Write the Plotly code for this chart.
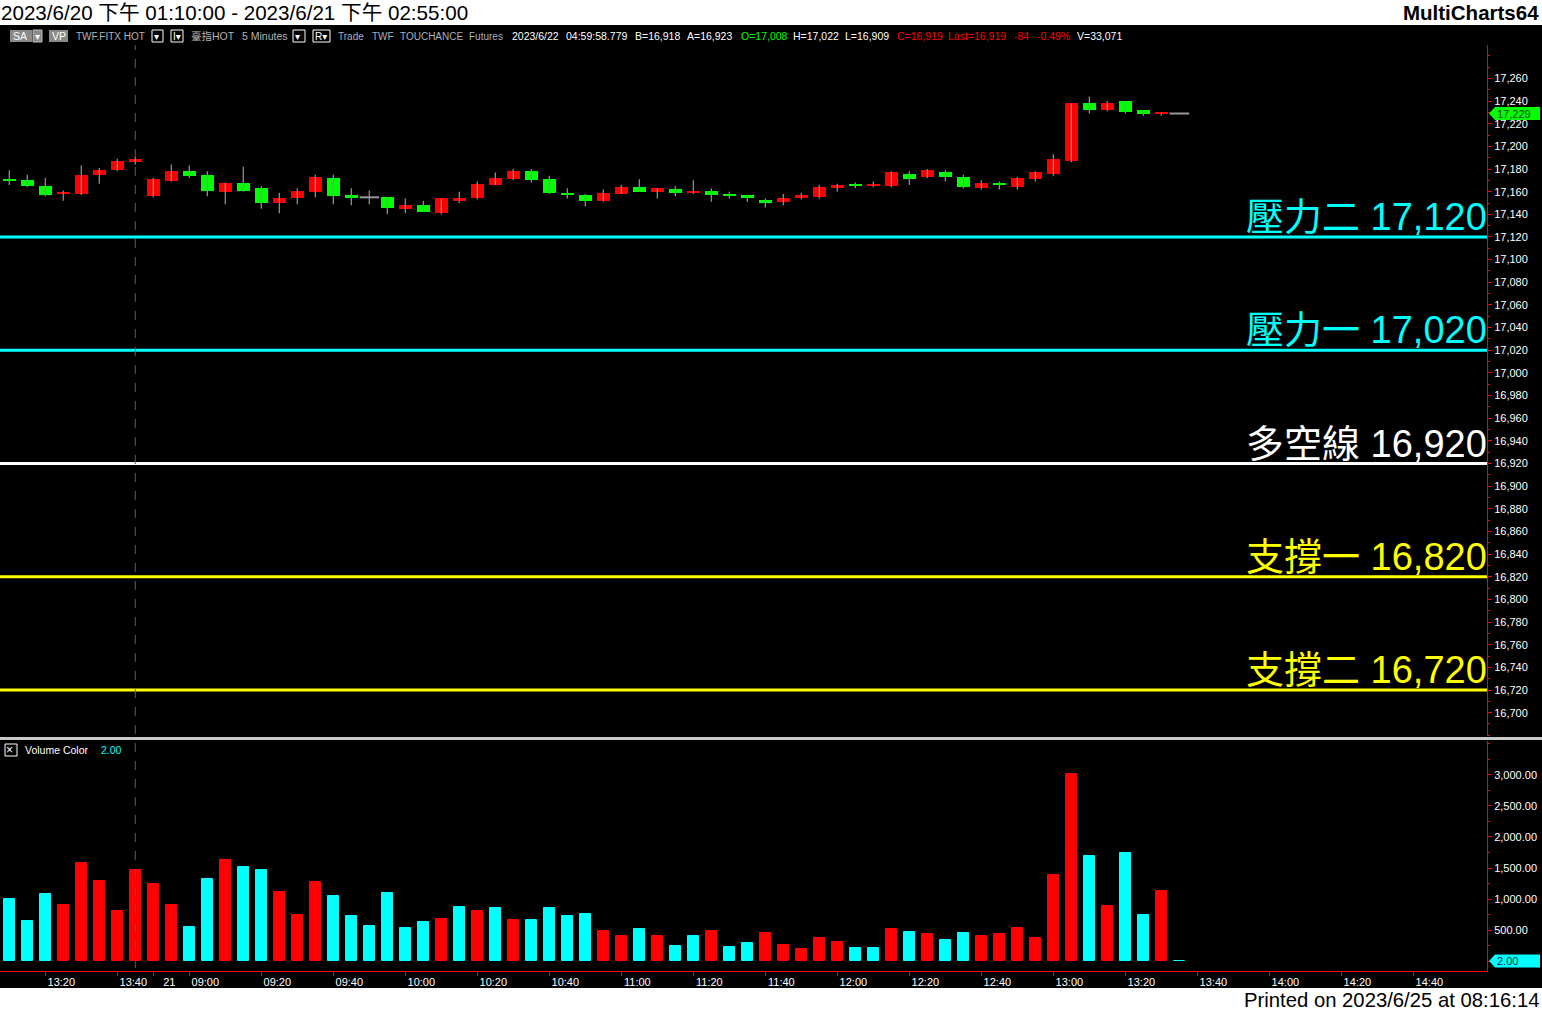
import plotly.graph_objects as go
import pandas as pd

# ---------------- data ----------------
opens = [17171, 17170, 17165, 17158, 17158, 17175, 17179, 17186, 17156, 17169,
         17178, 17175, 17160, 17168, 17163, 17150, 17154, 17160, 17172, 17157,
         17155, 17155, 17145, 17148, 17141, 17152, 17154, 17166, 17171, 17178,
         17171, 17159, 17157, 17152, 17158, 17164, 17160, 17162, 17159, 17161,
         17158, 17157, 17153, 17151, 17154, 17155, 17163, 17167, 17165, 17165,
         17176, 17173, 17177, 17173, 17163, 17168, 17164, 17171, 17176, 17187,
         17238, 17232, 17240, 17232, 17229, 17229]
highs = [17179, 17175, 17172, 17161, 17183, 17181, 17189, 17191, 17172, 17184,
         17183, 17178, 17168, 17182, 17165, 17159, 17163, 17175, 17175, 17163,
         17161, 17155, 17154, 17152, 17154, 17160, 17169, 17177, 17180, 17180,
         17174, 17163, 17158, 17162, 17166, 17171, 17163, 17165, 17170, 17163,
         17160, 17157, 17154, 17158, 17159, 17166, 17167, 17168, 17169, 17178,
         17178, 17180, 17179, 17175, 17170, 17169, 17173, 17178, 17193, 17238,
         17244, 17240, 17240, 17232, 17230, 17229]
lows = [17166, 17164, 17156, 17152, 17157, 17167, 17178, 17184, 17155, 17169,
        17172, 17156, 17149, 17160, 17145, 17141, 17149, 17155, 17149, 17148,
        17149, 17140, 17141, 17142, 17140, 17150, 17153, 17166, 17170, 17168,
        17158, 17154, 17147, 17151, 17158, 17160, 17154, 17156, 17158, 17151,
        17154, 17151, 17146, 17148, 17153, 17154, 17160, 17163, 17164, 17164,
        17166, 17172, 17169, 17163, 17162, 17162, 17162, 17169, 17174, 17186,
        17229, 17231, 17229, 17227, 17227, 17229]
closes = [17169, 17165, 17157, 17160, 17175, 17179, 17187, 17189, 17171, 17178,
          17174, 17161, 17168, 17161, 17150, 17154, 17161, 17173, 17156, 17154,
          17155, 17146, 17148, 17142, 17154, 17154, 17167, 17172, 17178, 17170,
          17159, 17157, 17152, 17159, 17164, 17160, 17163, 17159, 17161, 17157,
          17156, 17154, 17150, 17154, 17157, 17164, 17166, 17165, 17167, 17177,
          17171, 17179, 17173, 17164, 17168, 17166, 17172, 17177, 17189, 17238,
          17232, 17238, 17230, 17229, 17230, 17229]
volumes = [995, 640, 1075, 898, 1575, 1285, 801, 1462, 1236, 898,
           543, 1317, 1624, 1511, 1462, 1107, 737, 1269, 1043, 720,
           559, 1091, 527, 624, 672, 866, 801, 849, 656, 656,
           849, 720, 753, 478, 398, 511, 398, 237, 398, 478,
           220, 285, 446, 253, 188, 366, 301, 204, 204, 511,
           462, 430, 333, 446, 398, 430, 527, 366, 1382, 3011,
           1688, 882, 1736, 737, 1124, 2]
# 1 = up-volume (red), 0 = down-volume (cyan)
vol_up = [0, 0, 0, 1, 1, 1, 1, 1, 1, 1,
          0, 0, 1, 0, 0, 1, 1, 1, 0, 0,
          0, 0, 0, 0, 1, 0, 1, 0, 1, 0,
          0, 0, 0, 1, 1, 0, 1, 0, 0, 1,
          0, 0, 1, 1, 1, 1, 1, 0, 0, 1,
          0, 1, 0, 0, 1, 1, 1, 1, 1, 1,
          0, 1, 0, 0, 1, 0]
level_names = ["壓力二", "壓力一", "多空線", "支撐一", "支撐二"]
level_values = [17120, 17020, 16920, 16820, 16720]
price_ticks = list(range(16700, 17261, 20))
volume_ticks = [500, 1000, 1500, 2000, 2500, 3000]

# time slots (5-minute bars), including empty future slots on the axis
bar_times = (list(pd.date_range("2023-06-20 13:10", "2023-06-20 13:45", freq="5min")) +
             list(pd.date_range("2023-06-21 08:50", "2023-06-21 14:55", freq="5min")))

# ---------------- styles ----------------
level_colors = {"壓力二": "#00FFFF", "壓力一": "#00FFFF", "多空線": "#FFFFFF",
                "支撐一": "#FFFF00", "支撐二": "#FFFF00"}
UP, DOWN, DOJI = "#FF0000", "#00FF00", "#9a9a9a"
VUP, VDOWN = "#FF0000", "#00FFFF"
FONT = "Liberation Sans, Arial, Noto Sans CJK TC, DejaVu Sans, sans-serif"

W, H = 1542, 1012
ML, MR, MT, MB = 0, 55, 45, 41
PW, PH = W - ML - MR, H - MT - MB


def px(x):
    return (x - ML) / PW


def py(y):
    return (H - MB - y) / PH


n = len(closes)
idx = list(range(n))

fig = go.Figure()

# wicks
wx, wy = [], []
for i in idx:
    wx += [i, i, None]
    wy += [lows[i], highs[i], None]
fig.add_trace(go.Scatter(x=wx, y=wy, mode="lines", line=dict(color="#8c8c8c", width=1.3),
                         hoverinfo="skip", showlegend=False, xaxis="x", yaxis="y"))

up_i = [i for i in idx if closes[i] > opens[i]]
dn_i = [i for i in idx if closes[i] < opens[i]]
dj_i = [i for i in idx if closes[i] == opens[i]]
fig.add_trace(go.Bar(x=up_i, y=[closes[i] - opens[i] for i in up_i], base=[opens[i] for i in up_i],
                     width=0.72, marker=dict(color=UP, line=dict(width=0)), showlegend=False,
                     xaxis="x", yaxis="y"))
fig.add_trace(go.Bar(x=dn_i, y=[opens[i] - closes[i] for i in dn_i], base=[closes[i] for i in dn_i],
                     width=0.72, marker=dict(color=DOWN, line=dict(width=0)), showlegend=False,
                     xaxis="x", yaxis="y"))
fig.add_trace(go.Scatter(x=dj_i, y=[closes[i] for i in dj_i], mode="markers",
                         marker=dict(symbol="line-ew", size=14, line=dict(color=DOJI, width=2)),
                         showlegend=False, xaxis="x", yaxis="y"))

# volume
vcols = [VUP if u else VDOWN for u in vol_up]
fig.add_trace(go.Bar(x=idx, y=volumes, width=0.58,
                     marker=dict(color=vcols, line=dict(color=vcols, width=1)),
                     showlegend=False, xaxis="x", yaxis="y2"))

# x ticks
tickvals, ticktext = [], []
for i, t in enumerate(bar_times):
    if i > 0 and t.date() != bar_times[i - 1].date():
        tickvals.append(i)
        ticktext.append(str(t.day))
    elif t.minute % 20 == 0:
        tickvals.append(i)
        ticktext.append(t.strftime("%H:%M"))

shapes = []
annotations = []

# background black band
shapes.append(dict(type="rect", xref="paper", yref="paper", x0=px(0), x1=px(W), y0=py(988), y1=py(25),
                   fillcolor="#000000", line=dict(width=0), layer="below"))

# level lines & labels
for name, val in zip(level_names, level_values):
    c = level_colors[name]
    shapes.append(dict(type="line", xref="paper", yref="y", x0=0, x1=1, y0=val, y1=val,
                       line=dict(color=c, width=3)))
    annotations.append(dict(xref="paper", yref="y", x=1, y=val, xanchor="right", yanchor="bottom",
                            text=f"{name} {val:,}", showarrow=False, yshift=-3, xshift=2,
                            font=dict(size=38, color=c, family=FONT)))

# session break
last_day1 = max(i for i in idx if bar_times[i].date() == bar_times[0].date())
shapes.append(dict(type="line", xref="x", yref="paper", x0=last_day1, x1=last_day1, y0=py(968), y1=1,
                   line=dict(color="#5a5a5a", width=1, dash="dash")))

# panel separator
shapes.append(dict(type="line", xref="paper", yref="paper", x0=px(0), x1=px(W), y0=py(738.5), y1=py(738.5),
                   line=dict(color="#c8c8c8", width=3)))

# last price marker
last = closes[-1]
shapes.append(dict(type="path", xref="paper", yref="y", xsizemode="pixel", ysizemode="pixel",
                   xanchor=1, yanchor=last, path="M 2,0 L 8,6.5 L 53,6.5 L 53,-6.5 L 8,-6.5 Z",
                   fillcolor="#00FF00", line=dict(width=0)))
annotations.append(dict(xref="paper", yref="y", x=1, y=last, xanchor="left", yanchor="middle",
                        xshift=8, text=f"{last:,}", showarrow=False,
                        font=dict(size=11, color="#004000", family=FONT)))
# last volume marker
lv = volumes[-1]
shapes.append(dict(type="path", xref="paper", yref="y2", xsizemode="pixel", ysizemode="pixel",
                   xanchor=1, yanchor=lv, path="M 2,0 L 8,6.5 L 53,6.5 L 53,-6.5 L 8,-6.5 Z",
                   fillcolor="#00FFFF", line=dict(width=0)))
annotations.append(dict(xref="paper", yref="y2", x=1, y=lv, xanchor="left", yanchor="middle",
                        xshift=8, text=f"{lv:.2f}", showarrow=False,
                        font=dict(size=11, color="#003030", family=FONT)))


def txt(x, y, s, size=11, color="#FFFFFF", anchor="left", bold=False):
    annotations.append(dict(xref="paper", yref="paper", x=px(x), y=py(y), xanchor=anchor, yanchor="middle",
                            text=(f"<b>{s}</b>" if bold else s), showarrow=False,
                            font=dict(size=size, color=color, family=FONT)))


def box(x0, x1, y0, y1, fill=None, edge=None):
    shapes.append(dict(type="rect", xref="paper", yref="paper", x0=px(x0), x1=px(x1), y0=py(y1), y1=py(y0),
                       fillcolor=fill if fill else "rgba(0,0,0,0)",
                       line=dict(color=edge if edge else "rgba(0,0,0,0)", width=1)))


# top white strip titles
txt(-1, 12.5, "2023/6/20 下午 01:10:00 - 2023/6/21 下午 02:55:00", size=20.6, color="#000000")
txt(1541, 12.5, "MultiCharts64", size=20.5, color="#000000", anchor="right", bold=True)
txt(1541, 1000, "Printed on 2023/6/25 at 08:16:14", size=20.3, color="#000000", anchor="right")

# header info row
HY = 36
GREY = "#b4b4b4"
box(10, 32, 30, 42, fill="#8a8a8a")
box(33, 42, 30, 42, fill="#8a8a8a", edge="#c0c0c0")
txt(11, HY, "SA", size=10.5, color="#FFFFFF")
txt(33, HY, "▾", size=10, color="#FFFFFF")
box(49, 68, 30, 42, fill="#8a8a8a")
txt(50, HY, "VP", size=10.5, color="#FFFFFF")
txt(74, HY, "TWF.FITX HOT", size=10, color=GREY)
box(152, 163, 30, 42, edge="#FFFFFF")
txt(152, HY, "▾", size=10)
box(171, 183, 30, 42, edge="#FFFFFF")
txt(171, HY, "I▾", size=10)
txt(189, HY, "臺指HOT", size=10.5, color=GREY)
txt(240, HY, "5 Minutes", size=10.5, color=GREY)
box(293, 305, 30, 42, edge="#FFFFFF")
txt(293, HY, "▾", size=10)
box(313, 330, 30, 42, edge="#FFFFFF")
txt(313, HY, "R▾", size=10)
for x, s in [(336, "Trade"), (370, "TWF"), (398, "TOUCHANCE"), (467, "Futures")]:
    txt(x, HY, s, size=10, color="#aab0c0")
for x, s, c in [(510, "2023/6/22", "#FFFFFF"), (564, "04:59:58.779", "#FFFFFF"),
                (633, "B=16,918", "#FFFFFF"), (685, "A=16,923", "#FFFFFF"),
                (739, "O=17,008", "#00FF00"), (791, "H=17,022", "#FFFFFF"),
                (843, "L=16,909", "#FFFFFF"), (895, "C=16,919", "#FF0000"),
                (946, "Last=16,919", "#FF0000"), (1012, "-84", "#FF0000"),
                (1035, "-0.49%", "#FF0000"), (1075, "V=33,071", "#FFFFFF")]:
    txt(x, HY, s, size=10.5, color=c)

# volume panel header
box(5, 17, 744, 756, edge="#FFFFFF")
txt(4, 750, "×", size=12)
txt(23, 750, "Volume Color", size=10.5)
txt(99, 750, f"{lv:.2f}", size=10.5, color="#00FFFF")

axis_common = dict(showgrid=False, zeroline=False, showline=True, linecolor="#FF0000", linewidth=1,
                   ticks="outside", tickcolor="#FF0000", ticklen=4,
                   tickfont=dict(size=11, color="#FFFFFF", family=FONT))

fig.update_layout(
    width=W, height=H,
    margin=dict(l=ML, r=MR, t=MT, b=MB, pad=0),
    paper_bgcolor="#FFFFFF", plot_bgcolor="#000000",
    barmode="overlay", bargap=0, showlegend=False,
    xaxis=dict(domain=[0, 1], anchor="y2", range=[-0.517, 82.09], tickmode="array",
               tickvals=tickvals, ticktext=ticktext, ticklabelshift=16, ticklabelstandoff=-3,
               **axis_common),
    yaxis=dict(domain=[py(736), 1], anchor="x", side="right", range=[16679.4, 17289.5],
               tickmode="array", tickvals=price_ticks, tickformat=",d",
               minor=dict(dtick=10, ticklen=2, tickcolor="#FF0000", ticks="outside"),
               **axis_common),
    yaxis2=dict(domain=[0, py(741)], anchor="x", side="right", range=[-161, 3548],
                tickmode="array", tickvals=volume_ticks, tickformat=",.2f",
                minor=dict(dtick=250, ticklen=2, tickcolor="#FF0000", ticks="outside"),
                **axis_common),
    shapes=shapes, annotations=annotations,
)

fig.write_html("out.html", config={"displayModeBar": False},
               post_script="document.body.style.margin='0';document.body.style.overflow='hidden';")
